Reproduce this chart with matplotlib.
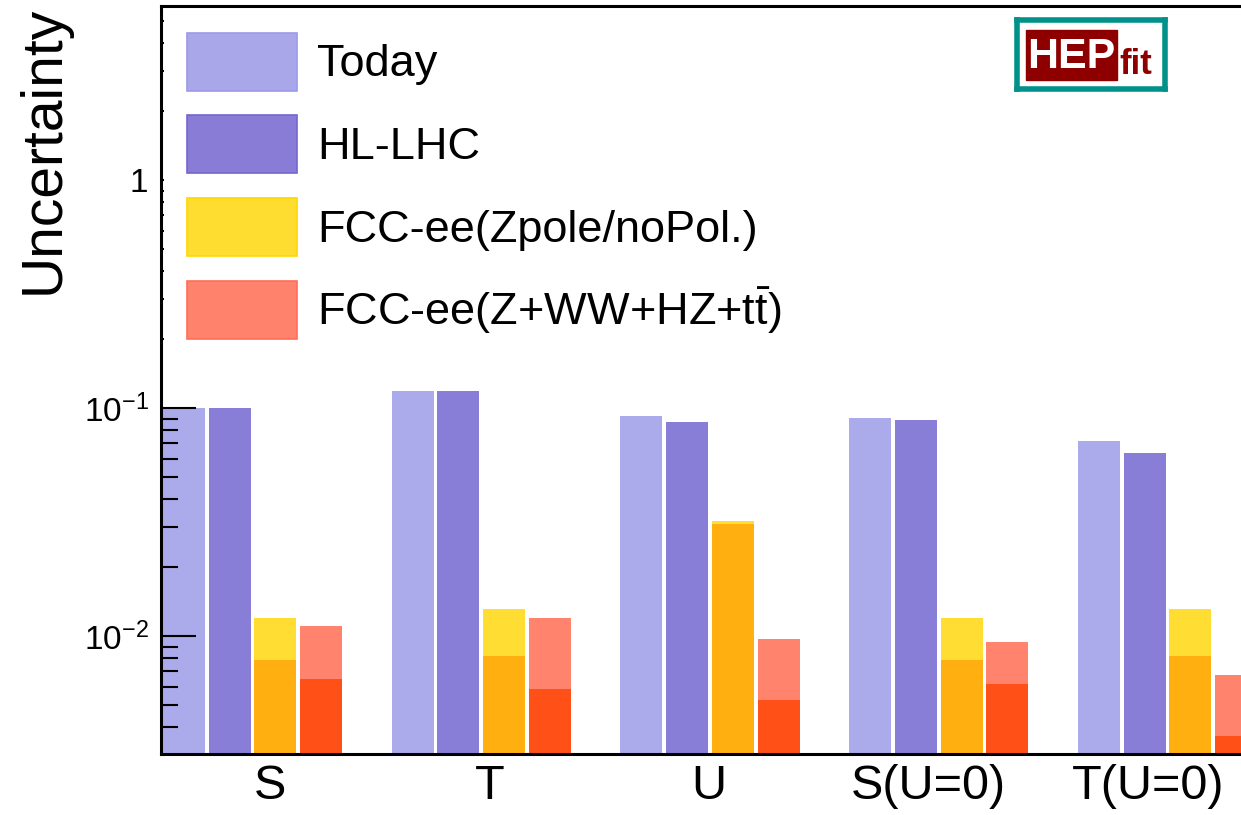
import matplotlib
matplotlib.use('Agg')
import matplotlib.pyplot as plt
from matplotlib.patches import Patch, Rectangle

plt.rcParams['font.family'] = ['Liberation Sans', 'DejaVu Sans']
plt.rcParams['mathtext.default'] = 'regular'

# Oblique parameter uncertainties
params = ['S', 'T', 'U', 'S(U=0)', 'T(U=0)']
today = [0.100, 0.119, 0.0922, 0.0904, 0.0717]
hl_lhc = [0.100, 0.119, 0.0868, 0.0886, 0.0635]
fcc_z_outer = [0.0120, 0.0131, 0.0319, 0.0120, 0.0131]
fcc_z_inner = [0.00785, 0.00817, 0.0310, 0.00785, 0.00817]
fcc_all_outer = [0.0111, 0.0120, 0.0097, 0.00941, 0.00675]
fcc_all_inner = [0.00648, 0.00586, 0.00524, 0.00616, 0.00364]

legend_names = ['Today', 'HL-LHC', 'FCC-ee(Zpole/noPol.)', r'FCC-ee(Z+WW+HZ+t$\bar{t}$)']

W, H = 1241, 815
fig = plt.figure(figsize=(W / 100, H / 100), dpi=100)
ax_right = 1250  # frame runs past the right edge
ax = fig.add_axes([161 / W, (H - 754) / H, (ax_right - 161) / W, 748 / H])

pitch = 45.75
bw = 42 / pitch
for g in range(len(params)):
    x0 = 0.04 + 5 * g + 0.46
    ax.bar(x0, today[g], bw, color='#ABAAEB', zorder=1)
    ax.bar(x0 + 1, hl_lhc[g], bw, color='#897ED7', zorder=1)
    ax.bar(x0 + 2, fcc_z_outer[g], bw, color='#FFDD33', zorder=1)
    ax.bar(x0 + 2, fcc_z_inner[g], bw, color='#FFAF0F', zorder=1.1)
    ax.bar(x0 + 3, fcc_all_outer[g], bw, color='#FF836D', zorder=1)
    ax.bar(x0 + 3, fcc_all_inner[g], bw, color='#FF5018', zorder=1.1)

ax.set_yscale('log')
ax.set_ylim(0.00304, 5.8)
ax.set_xlim(0, (ax_right - 161) / pitch)

ax.set_xticks([2.38 + 4.8 * g for g in range(len(params))], labels=params)
ax.tick_params(axis='x', length=0, labelsize=35, pad=7)

ax.set_yticks([0.01, 0.1, 1], labels=[r'$10^{-2}$', r'$10^{-1}$', '1'])
ax.yaxis.set_minor_locator(matplotlib.ticker.LogLocator(base=10, subs=range(2, 10)))
ax.yaxis.set_minor_formatter(matplotlib.ticker.NullFormatter())
ax.tick_params(axis='y', which='major', direction='in', length=25, width=1.5, labelsize=24, pad=9)
ax.tick_params(axis='y', which='minor', direction='in', length=12, width=1.5)

for s in ax.spines.values():
    s.set_linewidth(2.2)
ax.spines['right'].set_visible(False)

ax.set_ylabel('Uncertainty', fontsize=41, loc='top')
ax.yaxis.set_label_coords(-0.083, 1.0)

handles = [
    Patch(facecolor='#A9A7EA', edgecolor='#9C99E8', lw=1.2),
    Patch(facecolor='#887CD6', edgecolor='#7566CF', lw=1.2),
    Patch(facecolor='#FFDD30', edgecolor='#FFD700', lw=1.2),
    Patch(facecolor='#FF826C', edgecolor='#FF6E55', lw=1.2),
]
leg = ax.legend(handles, legend_names, loc='upper left', bbox_to_anchor=(3 / 1089, 1 - 4 / 748),
                borderaxespad=0, borderpad=0.5, fontsize=32.5, handlelength=2.45, handleheight=1.6,
                handletextpad=0.45, labelspacing=0.55, frameon=True, fancybox=False,
                facecolor='white', edgecolor='none', framealpha=1)

# HEPfit logo
lg = fig.add_axes([1017 / W, 1 - 89 / H, 148 / W, 69 / H])
lg.set_xlim(1017, 1165)
lg.set_ylim(89, 20)
lg.set_xticks([])
lg.set_yticks([])
for s in lg.spines.values():
    s.set_color('#00918A')
    s.set_linewidth(4)
lg.add_patch(Rectangle((1026, 30), 91, 50, color='#8E0000'))
lg.text(1071, 57, 'HEP', color='white', fontsize=31, fontweight='bold', ha='center', va='center')
lg.text(1136, 74, 'fit', color='#8E0000', fontsize=25, fontweight='bold', ha='center', va='baseline')

fig.savefig('out.png', dpi=100)
